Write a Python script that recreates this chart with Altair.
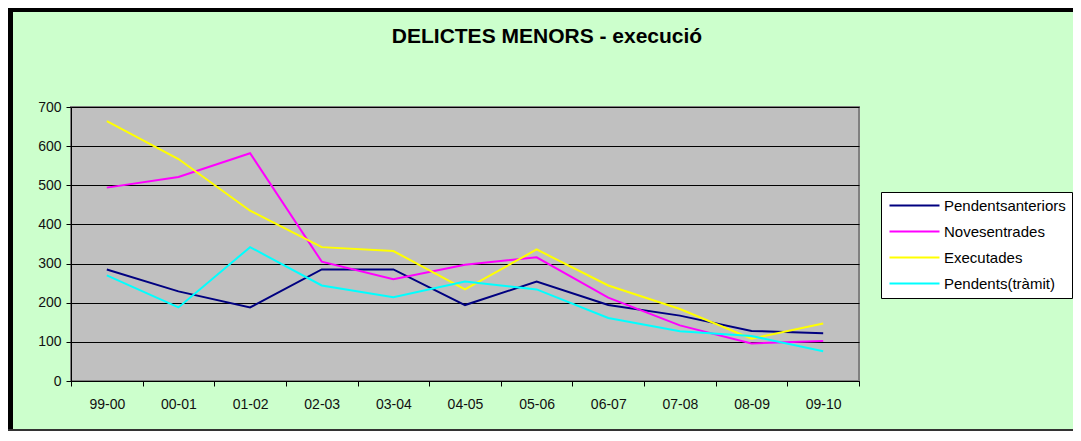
import altair as alt
import pandas as pd

periods = ["99-00", "00-01", "01-02", "02-03", "03-04", "04-05", "05-06", "06-07", "07-08", "08-09", "09-10"]
series_names = ["Pendentsanteriors", "Novesentrades", "Executades", "Pendents(tràmit)"]
series_colors = ["#000080", "#FF00FF", "#FFFF00", "#00FFFF"]
chart_title = "DELICTES MENORS - execució"

pendents_anteriors = [285, 229, 188, 285, 285, 194, 254, 194, 167, 128, 122]
noves_entrades = [494, 521, 582, 305, 260, 297, 316, 213, 142, 96, 102]
executades = [664, 567, 435, 342, 332, 234, 336, 244, 184, 108, 147]
pendents_tramit = [270, 188, 342, 244, 214, 254, 234, 161, 127, 115, 76]

all_values = [pendents_anteriors, noves_entrades, executades, pendents_tramit]
rows = []
for name, vals in zip(series_names, all_values):
    for p, v in zip(periods, vals):
        rows.append({"periode": p, "serie": name, "valor": v})
df = pd.DataFrame(rows)

FONT = "Liberation Sans"
PLOT_W, PLOT_H = 788, 274
PAD_L, PAD_T, PAD_R, PAD_B = 63, 99, 214, 50

lines = alt.Chart(df).mark_line(strokeWidth=2).encode(
    x=alt.X("periode:N", sort=periods,
            scale=alt.Scale(paddingInner=0, paddingOuter=0),
            axis=alt.Axis(title=None, labelAngle=0, tickBand="extent", tickSize=5,
                          labelPadding=11, labelFont=FONT, labelFontSize=14,
                          labelColor="#111111", domainColor="black", tickColor="black",
                          grid=False)),
    y=alt.Y("valor:Q", scale=alt.Scale(domain=[0, 700], nice=False),
            axis=alt.Axis(title=None, values=list(range(0, 701, 100)), tickSize=5,
                          labelPadding=5, labelFont=FONT, labelFontSize=14,
                          labelColor="#111111", domainColor="black", tickColor="black",
                          grid=True, gridColor="black", gridWidth=1)),
    color=alt.Color("serie:N", sort=series_names,
                    scale=alt.Scale(domain=series_names, range=series_colors),
                    legend=alt.Legend(orient="none", legendX=810, legendY=85, title=None,
                                      symbolType="M-1,0H9", symbolSize=100,
                                      symbolStrokeWidth=2, labelFont=FONT,
                                      labelFontSize=15, labelColor="black",
                                      fillColor="white", strokeColor="black",
                                      padding=6, rowPadding=10, labelOffset=42,
                                      labelLimit=400)),
    order=alt.Order("serie:N"),
)

frame = pd.DataFrame({"k": [0]})
title_mark = alt.Chart(frame).mark_text(
    text=chart_title, font=FONT, fontSize=21, fontWeight="bold", color="black",
    align="center", baseline="alphabetic").encode(
    x=alt.value(PLOT_W / 2 + 82), y=alt.value(-64))
left_border = alt.Chart(frame).mark_rule(color="black", strokeWidth=5).encode(
    x=alt.value(-PAD_L + 2.5), y=alt.value(-PAD_T), y2=alt.value(PLOT_H + PAD_B))
top_border = alt.Chart(frame).mark_rule(color="black", strokeWidth=4).encode(
    x=alt.value(-PAD_L), x2=alt.value(PLOT_W + PAD_R), y=alt.value(-PAD_T + 2))
bottom_border = alt.Chart(frame).mark_rule(color="#333333", strokeWidth=2).encode(
    x=alt.value(-PAD_L), x2=alt.value(PLOT_W + PAD_R), y=alt.value(PLOT_H + PAD_B - 1))

chart = alt.layer(lines, title_mark, left_border, top_border, bottom_border).properties(
    width=PLOT_W, height=PLOT_H,
    autosize=alt.AutoSizeParams(type="none"),
    padding={"left": PAD_L, "top": PAD_T, "right": PAD_R, "bottom": PAD_B},
    background="#CCFFCC",
).configure_view(fill="#C0C0C0", stroke="#808080", strokeWidth=2)

chart.save("out.html", embed_options={"renderer": "svg", "actions": False})
